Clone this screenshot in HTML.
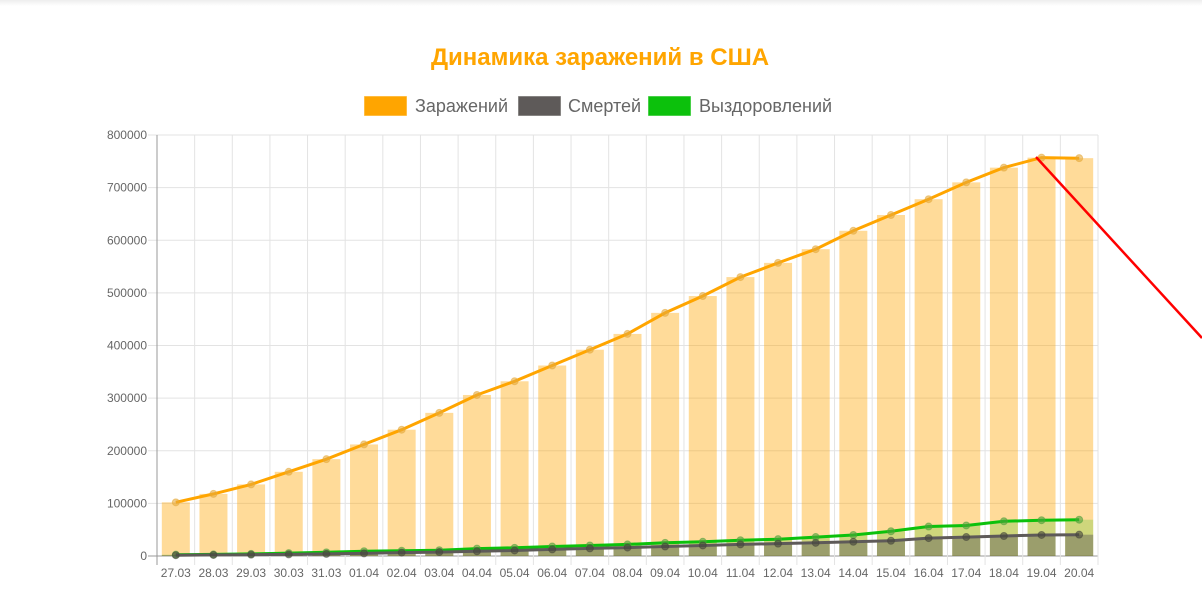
<!DOCTYPE html>
<html><head><meta charset="utf-8"><style>
html,body{margin:0;padding:0;background:#fff;width:1202px;height:596px;overflow:hidden;font-family:"Liberation Sans",sans-serif}
.top{position:absolute;left:0;top:0;width:1202px;height:6px;background:linear-gradient(#eee,#fff)}
</style></head><body>
<div class="top"></div>
<svg id="s" width="1202" height="596" style="position:absolute;left:0;top:0" xmlns="http://www.w3.org/2000/svg"></svg>
<script>
var s=document.getElementById('s');var h='';
var L=157,R=1098,T=135,B=556;
function y(v){return B-v*(B-T)/800000;}
var dates=['27.03','28.03','29.03','30.03','31.03','01.04','02.04','03.04','04.04','05.04','06.04','07.04','08.04','09.04','10.04','11.04','12.04','13.04','14.04','15.04','16.04','17.04','18.04','19.04','20.04'];
var inf=[102000,118000,136000,160000,184000,212000,240000,272000,306000,332000,362000,392000,422000,462000,494000,530000,557000,583000,618000,648000,678000,710000,738000,757000,756000];
var dth=[1500,2000,2500,3000,4000,5000,6500,7500,9000,10500,12500,14500,16000,18000,20000,22000,23500,25000,27000,29000,34000,36000,38000,40000,40500];
var rec=[2500,3000,4000,5500,7000,9000,10000,11000,14000,15500,18000,20000,22000,25000,27000,30000,32000,36000,40000,47000,56000,58000,66000,68000,69000];
var n=25,w=(R-L)/n;
h+='<text x="600" y="65" text-anchor="middle" font-size="24" font-weight="bold" fill="#ffa500">Динамика заражений в США</text>';
var lg=[[364,'#ffa500','Заражений',415],[518,'#5e5a59','Смертей',568],[648,'#0cc10c','Выздоровлений',699]];
lg.forEach(function(a){h+='<rect x="'+a[0]+'" y="96" width="43" height="20" fill="'+a[1]+'" stroke="rgba(255,255,255,0.5)"/><text x="'+a[3]+'" y="112" font-size="18" fill="#666">'+a[2]+'</text>';});
for(var i=0;i<=8;i++){var yy=y(i*100000);h+='<line x1="'+(L-9)+'" x2="'+R+'" y1="'+yy+'" y2="'+yy+'" stroke="'+(i==0?'#999':'#e3e3e3')+'"/>';
h+='<text x="147" y="'+(yy+4)+'" text-anchor="end" font-size="12" fill="#666">'+(i*100000)+'</text>';}
for(var i=0;i<=n;i++){var xx=L+i*w;h+='<line x1="'+xx+'" x2="'+xx+'" y1="'+T+'" y2="'+(B+9)+'" stroke="'+(i==0?'#999':'#e3e3e3')+'"/>';}
for(var i=0;i<n;i++){var cx=L+w*(i+.5),bw=28;
h+='<rect x="'+(cx-bw/2)+'" y="'+y(inf[i])+'" width="'+bw+'" height="'+(B-y(inf[i]))+'" fill="rgba(255,165,0,0.4)"/>';
h+='<rect x="'+(cx-bw/2)+'" y="'+y(rec[i])+'" width="'+bw+'" height="'+(B-y(rec[i]))+'" fill="rgba(12,193,12,0.2)"/>';
h+='<rect x="'+(cx-bw/2)+'" y="'+y(dth[i])+'" width="'+bw+'" height="'+(B-y(dth[i]))+'" fill="rgba(94,90,89,0.45)"/>';
h+='<text x="'+cx+'" y="577" text-anchor="middle" font-size="12" fill="#666">'+dates[i]+'</text>';}
function line(d,c,mc){var p='';for(var i=0;i<n;i++){p+=(i?'L':'M')+(L+w*(i+.5)).toFixed(1)+' '+y(d[i]).toFixed(1);}
h+='<path d="'+p+'" fill="none" stroke="'+c+'" stroke-width="3"/>';
for(var i=0;i<n;i++)h+='<circle cx="'+(L+w*(i+.5))+'" cy="'+y(d[i])+'" r="3.5" fill="'+mc+'" stroke="'+mc+'" stroke-opacity="0.9"/>';}
line(rec,'#0cc10c','rgba(80,160,60,0.6)');
line(dth,'#5e5a59','rgba(70,70,60,0.6)');
line(inf,'#ffa500','rgba(230,170,60,0.6)');
h+='<line x1="1036" y1="157" x2="1202" y2="338" stroke="#f00" stroke-width="2.5"/>';
s.innerHTML=h;
</script>
</body></html>
